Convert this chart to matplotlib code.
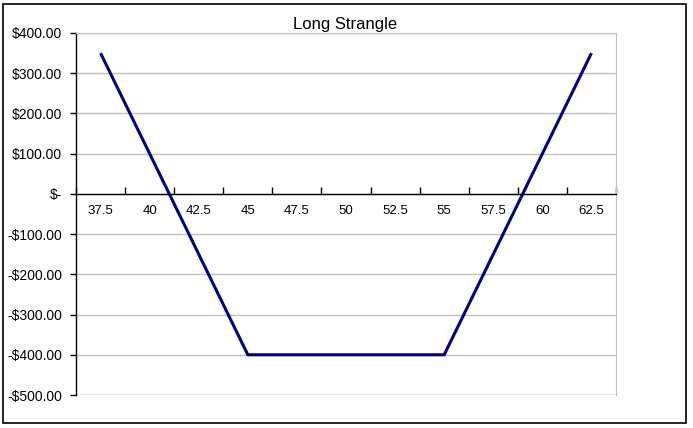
import numpy as np
import matplotlib.pyplot as plt
from matplotlib.patches import Rectangle

plt.rcParams['font.family'] = ['Liberation Sans', 'DejaVu Sans']

# Long strangle payoff
strikes = [37.5, 40, 42.5, 45, 47.5, 50, 52.5, 55, 57.5, 60, 62.5]
profit = [350, 100, -150, -400, -400, -400, -400, -400, -150, 100, 350]
y_ticks = [400, 300, 200, 100, 0, -100, -200, -300, -400, -500]

def money(v):
    if v == 0:
        return '$-'
    if v < 0:
        return '-$%.2f' % abs(v)
    return '$%.2f' % v

fig = plt.figure(figsize=(6.93, 4.28), dpi=100)
ax = fig.add_axes([76/693, 1-395/428, 540/693, 362/428])

pos = np.arange(len(strikes))
ax.plot(pos, profit, color='#000080', lw=2.2, solid_capstyle='butt')

ax.set_xlim(-0.5, len(strikes) - 0.5)
ax.set_ylim(-500, 400)

ax.set_yticks(y_ticks)
ax.set_yticklabels([money(v) for v in y_ticks], fontsize=10)
ax.yaxis.grid(True, color='#c0c0c0', lw=1.0)
ax.set_axisbelow(True)
ax.tick_params(axis='y', direction='out', length=4, width=1, pad=6, colors='black')

# category axis crossing at zero
ax.spines['bottom'].set_position(('data', 0))
ax.spines['bottom'].set_linewidth(1.0)
ax.spines['left'].set_linewidth(1.0)
ax.spines['top'].set_color('#c0c0c0')
ax.spines['right'].set_color('#c0c0c0')
ax.set_xticks(np.arange(-0.5, len(strikes)), minor=False)
ax.set_xticklabels([])
ax.tick_params(axis='x', which='major', direction='in', length=5, width=1)
ax.set_xticks(pos, minor=True)
ax.set_xticklabels([('%g' % s) for s in strikes], minor=True, fontsize=9.5)
ax.tick_params(axis='x', which='minor', length=0, pad=8)
ax.axhline(-500, color='#c0c0c0', lw=1.0, zorder=0.5)

fig.text(345/693, 1-25/428, 'Long Strangle', fontsize=12, ha='center', va='center')

fig.patches.append(Rectangle((3/693, 5/428), 683/693, 419/428, transform=fig.transFigure,
                             fill=False, edgecolor='black', lw=1.2))

fig.savefig('out.png', dpi=100)
